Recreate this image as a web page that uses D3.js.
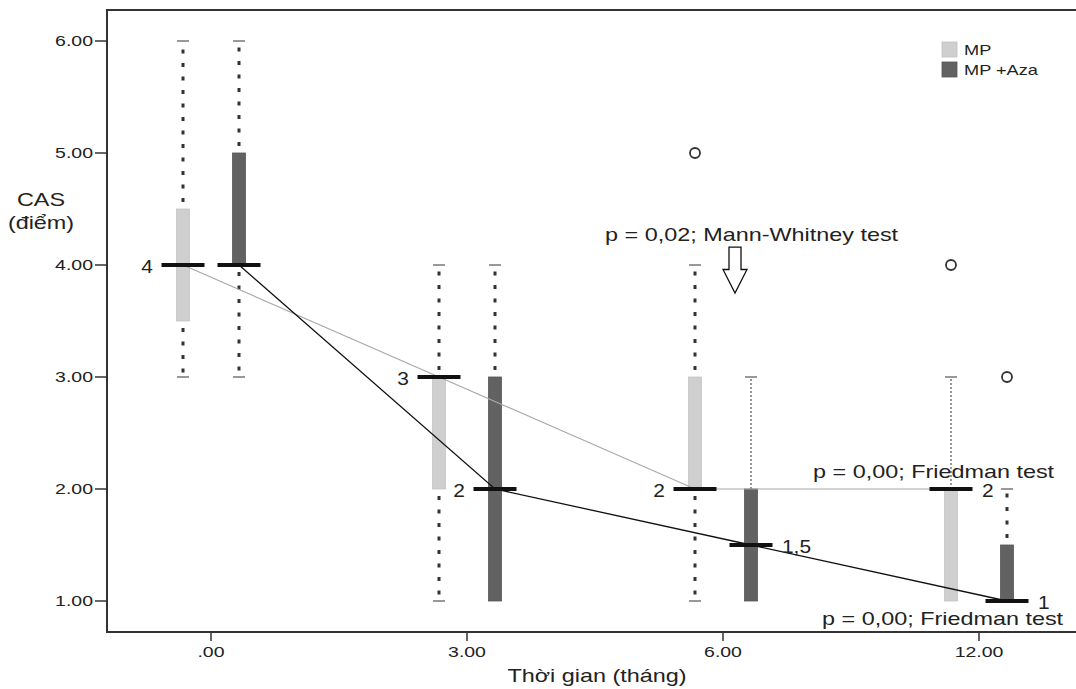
<!DOCTYPE html>
<html>
<head>
<meta charset="utf-8">
<script src="https://cdn.jsdelivr.net/npm/d3@7"></script>
<style>
  body { margin: 0; background: #fff; }
  svg { display: block; font-family: "Liberation Sans", Arial, sans-serif; }
  text { fill: #222; }
</style>
</head>
<body>
<svg width="1076" height="689"></svg>
<script>
// data
var categories = ['.00', '3.00', '6.00', '12.00'];
var series = ['MP', 'MP +Aza'];

var mpMin    = [3, 1, 1, 1],
    mpQ1     = [3.5, 2, 2, 1],
    mpMedian = [4, 3, 2, 2],
    mpQ3     = [4.5, 3, 3, 2],
    mpMax    = [6, 4, 4, 3];

var azaMin    = [3, 1, 1, 1],
    azaQ1     = [4, 1, 1, 1],
    azaMedian = [4, 2, 1.5, 1],
    azaQ3     = [5, 3, 2, 1.5],
    azaMax    = [6, 4, 3, 2];

var mpOutliers  = [{cat: '6.00', value: 5}, {cat: '12.00', value: 4}];
var azaOutliers = [{cat: '12.00', value: 3}];

var mpMedianLabels  = ['4', '3', '2', '2'];
var azaMedianLabels = ['', '2', '1,5', '1'];

var yTicks = [1, 2, 3, 4, 5, 6];

var svg = d3.select('svg'),
    plot = {left: 107, top: 10, right: 1076, bottom: 632},
    SX = 1.3; // the original picture is stretched sideways

//scales
var x = d3.scalePoint().domain(categories).range([211, 979]),
    off = d3.scalePoint().domain(series).range([-28, 28]),
    y = d3.scaleLinear().domain([0.7232, 6.2768]).range([plot.bottom, plot.top]);

var fills = {'MP': '#cfcfcf', 'MP +Aza': '#626262'};
var labelLeft = {'MP': [true, true, true, false], 'MP +Aza': [true, true, false, false]};
var thinWhisker = {'MP': [false, false, false, true], 'MP +Aza': [false, false, true, false]};

function stretchedText(parent, px, py, str, size, anchor, sx) {
  return parent.append('text')
    .attr('transform', 'translate(' + px + ',' + py + ') scale(' + (sx || SX) + ',1)')
    .attr('text-anchor', anchor || 'start')
    .style('font-size', size + 'px')
    .text(str);
}

//build box rows from the arrays
var boxes = [];
categories.forEach(function(c, i) {
  boxes.push({s: 'MP', cat: c, i: i, min: mpMin[i], q1: mpQ1[i], med: mpMedian[i], q3: mpQ3[i], max: mpMax[i], label: mpMedianLabels[i]});
  boxes.push({s: 'MP +Aza', cat: c, i: i, min: azaMin[i], q1: azaQ1[i], med: azaMedian[i], q3: azaQ3[i], max: azaMax[i], label: azaMedianLabels[i]});
});
function cx(d) { return x(d.cat) + off(d.s); }

//frame
var frame = svg.append('g').attr('stroke', '#333').attr('stroke-width', 2);
frame.append('line').attr('x1', plot.left).attr('x2', plot.left).attr('y1', plot.top - 1).attr('y2', plot.bottom + 1);
frame.append('line').attr('x1', plot.left).attr('x2', plot.right).attr('y1', plot.bottom).attr('y2', plot.bottom);
frame.append('line').attr('x1', plot.left).attr('x2', plot.right).attr('y1', plot.top).attr('y2', plot.top);

//y axis ticks and labels
var yAxis = svg.append('g');
yTicks.forEach(function(t) {
  yAxis.append('line').attr('x1', plot.left - 12).attr('x2', plot.left)
    .attr('y1', y(t)).attr('y2', y(t)).attr('stroke', '#333').attr('stroke-width', 1.5);
  stretchedText(yAxis, plot.left - 14, y(t) + 5, t.toFixed(2), 15, 'end');
});

//x axis ticks and labels
var xAxis = svg.append('g');
categories.forEach(function(c) {
  xAxis.append('line').attr('x1', x(c)).attr('x2', x(c))
    .attr('y1', plot.bottom).attr('y2', plot.bottom + 9).attr('stroke', '#333').attr('stroke-width', 1.5);
  stretchedText(xAxis, x(c), plot.bottom + 25, c, 15, 'middle');
});

//axis titles
stretchedText(svg, 41, 206, 'CAS', 18, 'middle');
stretchedText(svg, 41, 229, '(điểm)', 18, 'middle');
stretchedText(svg, 597, 682, 'Thời gian (tháng)', 18, 'middle');

//whiskers
var wg = svg.append('g');
boxes.forEach(function(d) {
  var thin = thinWhisker[d.s][d.i];
  [[d.q3, d.max], [d.q1, d.min]].forEach(function(w) {
    if (w[0] === w[1]) return;
    wg.append('line')
      .attr('x1', cx(d)).attr('x2', cx(d))
      .attr('y1', y(w[0])).attr('y2', y(w[1]))
      .attr('stroke', thin ? '#777' : '#333')
      .attr('stroke-width', thin ? 1.5 : 3)
      .attr('stroke-dasharray', thin ? '2,2' : '4,9.5')
      .attr('stroke-dashoffset', thin ? 0 : -7);
    wg.append('line')
      .attr('x1', cx(d) - 6).attr('x2', cx(d) + 6)
      .attr('y1', y(w[1])).attr('y2', y(w[1]))
      .attr('stroke', '#555').attr('stroke-width', 1.2);
  });
});

//boxes
svg.append('g').selectAll('rect')
  .data(boxes)
  .enter().append('rect')
    .attr('x', function(d) { return cx(d) - 6.5; })
    .attr('width', 13)
    .attr('y', function(d) { return y(d.q3); })
    .attr('height', function(d) { return y(d.q1) - y(d.q3); })
    .attr('fill', function(d) { return fills[d.s]; })
    .attr('stroke', function(d) { return d.s === 'MP' ? '#c4c4c4' : '#555'; })
    .attr('stroke-width', 0.8);

//median trend lines
var line = d3.line().x(cx).y(function(d) { return y(d.med); });
svg.append('path')
  .datum(boxes.filter(function(d) { return d.s === 'MP'; }))
  .attr('d', line).attr('fill', 'none').attr('stroke', '#a8a8a8').attr('stroke-width', 1.1);
svg.append('path')
  .datum(boxes.filter(function(d) { return d.s === 'MP +Aza'; }))
  .attr('d', line).attr('fill', 'none').attr('stroke', '#111').attr('stroke-width', 1.3);

//medians
svg.append('g').selectAll('line')
  .data(boxes)
  .enter().append('line')
    .attr('x1', function(d) { return cx(d) - 21.5; })
    .attr('x2', function(d) { return cx(d) + 21.5; })
    .attr('y1', function(d) { return y(d.med); })
    .attr('y2', function(d) { return y(d.med); })
    .attr('stroke', '#111').attr('stroke-width', 4);

//median labels
var lg = svg.append('g');
boxes.forEach(function(d) {
  if (!d.label) return;
  var left = labelLeft[d.s][d.i];
  stretchedText(lg, left ? cx(d) - 30 : cx(d) + 31, y(d.med) + 8, d.label, 19, left ? 'end' : 'start', 1.1);
});

//outliers
var outs = mpOutliers.map(function(o) { return {s: 'MP', cat: o.cat, value: o.value}; })
  .concat(azaOutliers.map(function(o) { return {s: 'MP +Aza', cat: o.cat, value: o.value}; }));
svg.append('g').selectAll('circle')
  .data(outs)
  .enter().append('circle')
    .attr('cx', cx)
    .attr('cy', function(d) { return y(d.value); })
    .attr('r', 5)
    .attr('fill', 'none').attr('stroke', '#333').attr('stroke-width', 1.8);

//annotations
stretchedText(svg, x('6.00') - 118, y(4.214), 'p = 0,02; Mann-Whitney test', 18, 'start');
stretchedText(svg, x('12.00') - 166, y(2.1), 'p = 0,00; Friedman test', 18, 'start');
stretchedText(svg, x('12.00') - 157, y(0.79), 'p = 0,00; Friedman test', 18, 'start');

//hollow arrow pointing down at the 6 month pair
var ax = x('6.00') + 12, atop = y(4.16), aneck = y(3.96), atip = y(3.75);
svg.append('path')
  .attr('d', 'M' + (ax - 6) + ',' + atop + 'H' + (ax + 6) + 'V' + aneck + 'H' + (ax + 12) +
             'L' + ax + ',' + atip + 'L' + (ax - 12) + ',' + aneck + 'H' + (ax - 6) + 'Z')
  .attr('fill', '#fff').attr('stroke', '#111').attr('stroke-width', 1.3);

//legend
var legend = svg.append('g').attr('transform', 'translate(942,42)');
series.forEach(function(s, i) {
  legend.append('rect').attr('x', 0).attr('y', i * 20).attr('width', 15).attr('height', 15)
    .attr('fill', fills[s]).attr('stroke', s === 'MP' ? '#c0c0c0' : '#555').attr('stroke-width', 0.8);
  stretchedText(legend, 22, i * 20 + 13, s, 14, 'start');
});
</script>
</body>
</html>
